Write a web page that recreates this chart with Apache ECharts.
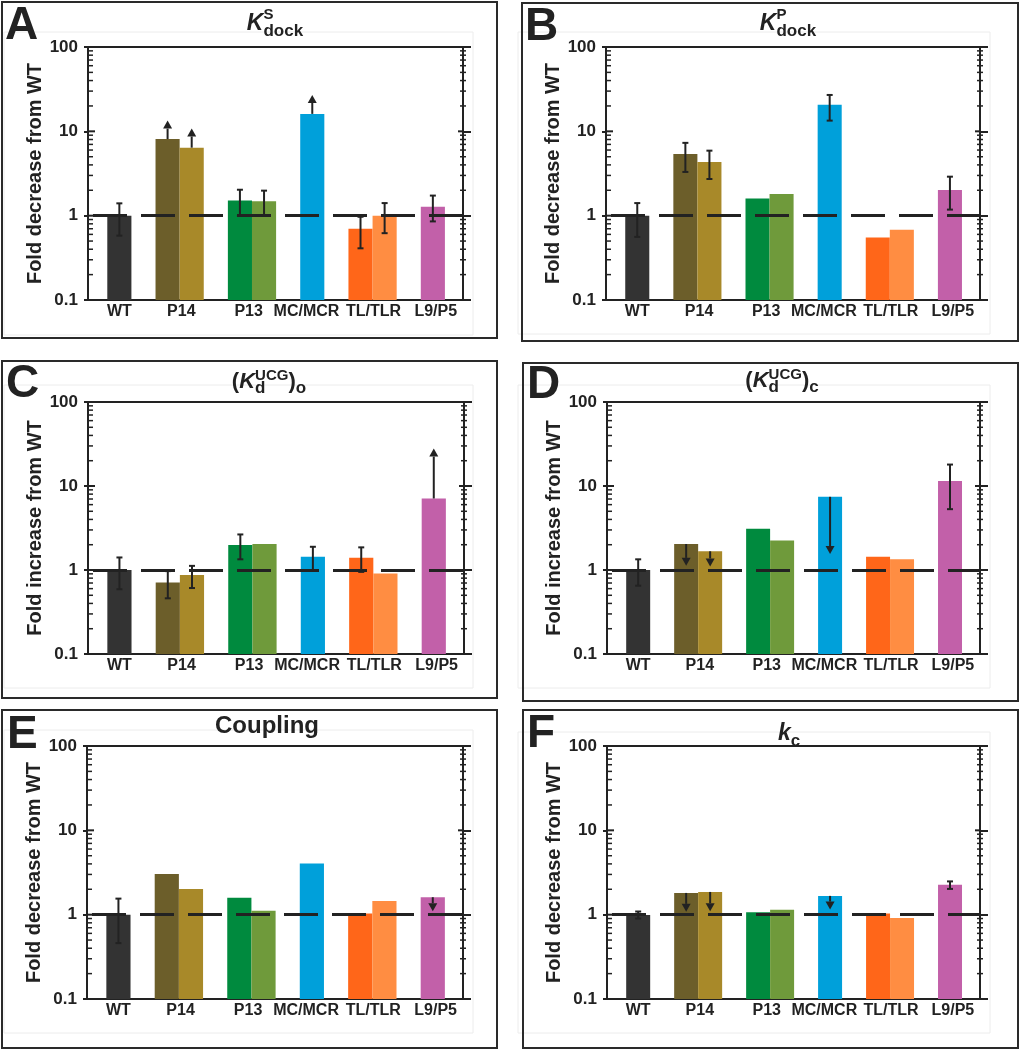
<!DOCTYPE html>
<html><head><meta charset="utf-8">
<script src="https://cdn.jsdelivr.net/npm/echarts@6/dist/echarts.min.js"></script>
<style>html,body{margin:0;padding:0;background:#fff;overflow:hidden}#c{width:1020px;height:1050px}</style>
</head><body><div id="c"></div>
<script>
// ---------- data ----------
const categories = ['WT', 'P14', 'P13', 'MC/MCR', 'TL/TLR', 'L9/P5'];
const categoryLabelPositions = [1.0, 3.57, 6.36, 8.76, 11.54, 14.12];
const barPositions = [1, 3, 4, 6, 7, 9, 11, 12, 14];
const barColors = ['#333333', '#6c5e2a', '#a88929', '#008a3e', '#6f9a3b', '#00a0da', '#ff6619', '#ff8d42', '#c260a9'];
const yTickValues = [0.1, 1, 10, 100];
const minorTickValues = [0.2, 0.3, 0.4, 0.5, 0.6, 0.7, 0.8, 0.9, 2, 3, 4, 5, 6, 7, 8, 9, 20, 30, 40, 50, 60, 70, 80, 90];
const panelLetters = ['A', 'B', 'C', 'D', 'E', 'F'];
const yAxisNames = ['Fold decrease from WT', 'Fold decrease from WT', 'Fold increase from WT', 'Fold increase from WT', 'Fold decrease from WT', 'Fold decrease from WT'];

// error bars: [barIndex, low, high]; arrows: [barIndex, arrow tip value]
const kdockS = [1.0, 8.1, 6.4, 1.51, 1.48, 16.1, 0.70, 1.0, 1.28];
const kdockSErr = [[0, 0.58, 1.40], [3, 1.0, 2.03], [4, 1.0, 1.98], [6, 0.41, 0.97], [7, 0.62, 1.41], [8, 0.855, 1.73]];
const kdockSArrows = [[1, 13.4], [2, 10.8], [5, 27]];
const kdockP = [1.0, 5.4, 4.33, 1.6, 1.81, 20.6, 0.55, 0.68, 2.02];
const kdockPErr = [[0, 0.56, 1.41], [1, 3.3, 7.3], [2, 2.72, 5.9], [5, 13.4, 27], [8, 1.18, 2.9]];
const kdockPArrows = [];
const kdUCGo = [1.0, 0.71, 0.87, 1.98, 2.04, 1.44, 1.40, 0.91, 7.1];
const kdUCGoErr = [[0, 0.59, 1.41], [1, 0.46, 0.97], [2, 0.61, 1.12], [3, 1.34, 2.65], [5, 1.0, 1.89], [6, 0.95, 1.86]];
const kdUCGoArrows = [[8, 27.9]];
const kdUCGc = [1.0, 2.04, 1.67, 3.1, 2.25, 7.43, 1.44, 1.34, 11.5];
const kdUCGcErr = [[0, 0.65, 1.34], [8, 5.3, 18]];
const kdUCGcArrows = [[1, 1.12], [2, 1.1], [5, 1.55]];
const coupling = [1.0, 3.04, 2.02, 1.59, 1.11, 4.03, 1.03, 1.45, 1.61];
const couplingErr = [[0, 0.46, 1.55]];
const couplingArrows = [[8, 1.1]];
const kc = [0.99, 1.81, 1.86, 1.07, 1.14, 1.67, 1.03, 0.91, 2.27];
const kcErr = [[0, 0.9, 1.09], [8, 2.02, 2.48]];
const kcArrows = [[1, 1.08], [2, 1.1], [5, 1.15]];

// ---------- layout / styling ----------
const INK = '#222222';
const FONT = '"Liberation Sans", Arial, Helvetica, sans-serif';
const X_MIN = -0.3, X_MAX = 15.25;

const panels = [
  { values: kdockS, err: kdockSErr, arrows: kdockSArrows, grid: [88, 47, 375, 253], box: [2, 2, 495, 336], faint: [4, 32, 469, 303], letter: [5, 26.5],
    title: { cx: 275, base: 32, groups: [[['K', 23, true, 0]], [['S', 15, false, -12], ['dock', 17, false, 5]]] } },
  { values: kdockP, err: kdockPErr, arrows: kdockPArrows, grid: [606, 47, 374, 253], box: [522, 3, 496, 338], faint: [518, 32, 472, 302], letter: [525, 27],
    title: { cx: 788, base: 32, groups: [[['K', 23, true, 0]], [['P', 15, false, -12], ['dock', 17, false, 5]]] } },
  { values: kdUCGo, err: kdUCGoErr, arrows: kdUCGoArrows, grid: [88, 402, 376, 252], box: [2, 361, 495, 337], faint: [4, 385, 469, 303], letter: [6, 384],
    title: { cx: 269, base: 390, groups: [[['(', 22, false, 0]], [['K', 22, true, 0]], [['UCG', 15, false, -9], ['d', 17, false, 4]], [[')', 22, false, 0]], [['o', 17, false, 4]]] } },
  { values: kdUCGc, err: kdUCGcErr, arrows: kdUCGcArrows, grid: [607, 402, 373, 252], box: [523, 363, 495, 338], faint: [518, 385, 472, 303], letter: [527, 385.5],
    title: { cx: 782, base: 389, groups: [[['(', 22, false, 0]], [['K', 22, true, 0]], [['UCG', 15, false, -9], ['d', 17, false, 4]], [[')', 22, false, 0]], [['c', 17, false, 4]]] } },
  { values: coupling, err: couplingErr, arrows: couplingArrows, grid: [87, 746, 376, 253], box: [2, 710, 495, 338], faint: [4, 730, 469, 303], letter: [7, 735],
    title: { cx: 267, base: 735, groups: [[['Coupling', 24, false, 0]]] } },
  { values: kc, err: kcErr, arrows: kcArrows, grid: [607, 746, 373, 253], box: [523, 710, 495, 338], faint: [518, 732, 472, 301], letter: [527, 734],
    title: { cx: 789, base: 742, groups: [[['k', 23, true, 0]], [['c', 17, false, 5]]] } }
];

const mctx = document.createElement('canvas').getContext('2d');
function fontStr(size, italic) { return (italic ? 'italic ' : '') + 'bold ' + size + 'px ' + FONT; }
function measure(t, size, italic) { mctx.font = fontStr(size, italic); return mctx.measureText(t).width; }
function textEl(x, y, text, font, align) {
  return { type: 'text', x: x, y: y, z: 10,
    style: { text: text, font: font, fill: INK, align: align || 'left', verticalAlign: 'middle', textAlign: align || 'left', textVerticalAlign: 'middle' } };
}
function titleGraphics(t) {
  const widths = t.groups.map(g => Math.max.apply(null, g.map(it => measure(it[0], it[1], it[2]))));
  const total = widths.reduce((a, b) => a + b, 0);
  let x = t.cx - total / 2;
  const out = [];
  t.groups.forEach((g, gi) => {
    g.forEach(it => out.push(textEl(x, t.base + it[3] - 0.35 * it[1], it[0], fontStr(it[1], it[2]))));
    x += widths[gi];
  });
  return out;
}
function barItem(params, api) {
  const x = api.value(0), v = api.value(1), k = api.value(2);
  const top = api.coord([x, v]), bot = api.coord([x, 0.1]);
  const w = api.size([1, 0])[0];
  return { type: 'rect', shape: { x: top[0] - w / 2, y: top[1], width: w, height: bot[1] - top[1] }, style: { fill: barColors[k] } };
}
function errItem(params, api) {
  const x = api.value(0);
  const lo = api.coord([x, api.value(1)]), hi = api.coord([x, api.value(2)]);
  const cw = 3, st = { stroke: INK, lineWidth: 2 };
  return { type: 'group', children: [
    { type: 'line', shape: { x1: lo[0], y1: lo[1], x2: hi[0], y2: hi[1] }, style: st },
    { type: 'line', shape: { x1: lo[0] - cw, y1: lo[1], x2: lo[0] + cw, y2: lo[1] }, style: st },
    { type: 'line', shape: { x1: hi[0] - cw, y1: hi[1], x2: hi[0] + cw, y2: hi[1] }, style: st } ] };
}
function arrowItem(params, api) {
  const x = api.value(0);
  const p0 = api.coord([x, api.value(1)]), p1 = api.coord([x, api.value(2)]);
  const dir = p1[1] < p0[1] ? -1 : 1, hh = 8, hw = 4.5, base = p1[1] - dir * hh;
  return { type: 'group', children: [
    { type: 'line', shape: { x1: p0[0], y1: p0[1], x2: p0[0], y2: base }, style: { stroke: INK, lineWidth: 2 } },
    { type: 'polygon', shape: { points: [[p1[0], p1[1]], [p1[0] - hw, base], [p1[0] + hw, base]] }, style: { fill: INK } } ] };
}

const grids = [], xAxes = [], yAxes = [], series = [], graphics = [], axisRefs = [];
panels.forEach((p, i) => {
  grids.push({ left: p.grid[0], top: p.grid[1], width: p.grid[2], height: p.grid[3] });
  const xb = xAxes.length;
  const lineSt = { color: INK, width: 2 };
  xAxes.push({ type: 'value', gridIndex: i, position: 'bottom', min: X_MIN, max: X_MAX,
    axisLine: { show: true, onZero: false, lineStyle: lineSt }, axisTick: { show: false }, splitLine: { show: false },
    axisLabel: { show: true, customValues: categoryLabelPositions, formatter: v => categories[categoryLabelPositions.indexOf(v)],
      color: INK, fontWeight: 'bold', fontSize: 16, fontFamily: FONT, margin: 4, hideOverlap: false } });
  xAxes.push({ type: 'value', gridIndex: i, position: 'top', min: X_MIN, max: X_MAX,
    axisLine: { show: true, onZero: false, lineStyle: lineSt }, axisTick: { show: false }, splitLine: { show: false }, axisLabel: { show: false } });
  const yb = yAxes.length;
  axisRefs.push({ xb: xb, yb: yb });
  const base = () => ({ type: 'log', logBase: 10, gridIndex: i, min: 0.1, max: 100, splitLine: { show: false },
    minorTick: { show: false }, axisLabel: { show: false }, axisLine: { show: false, onZero: false } });
  yAxes.push(Object.assign(base(), { position: 'left', name: yAxisNames[i], nameLocation: 'middle', nameRotate: 90, nameGap: 41,
    nameTextStyle: { color: INK, fontWeight: 'bold', fontSize: 20, fontFamily: FONT },
    axisLine: { show: true, onZero: false, lineStyle: lineSt },
    axisTick: { show: true, inside: false, length: 4, customValues: yTickValues, lineStyle: { color: INK, width: 2 } },
    axisLabel: { show: true, customValues: yTickValues, formatter: v => String(v), margin: 10, color: INK, fontWeight: 'bold', fontSize: 17, fontFamily: FONT } }));
  yAxes.push(Object.assign(base(), { position: 'right', axisLine: { show: true, onZero: false, lineStyle: lineSt },
    axisTick: { show: true, inside: false, length: 8, customValues: yTickValues, lineStyle: { color: INK, width: 2 } } }));

  series.push({ type: 'custom', xAxisIndex: xb, yAxisIndex: yb, z: 2, silent: true,
    encode: { x: 0, y: 1 }, data: p.values.map((v, k) => [barPositions[k], v, k]), renderItem: barItem });
  series.push({ type: 'line', xAxisIndex: xb, yAxisIndex: yb, z: 3, data: [], silent: true,
    markLine: { silent: true, symbol: ['none', 'none'], label: { show: false }, animation: false,
      lineStyle: { type: [34, 14], dashOffset: 43, width: 3, color: INK }, emphasis: { disabled: true }, data: [{ yAxis: 1 }] } });
  if (p.err.length) series.push({ type: 'custom', xAxisIndex: xb, yAxisIndex: yb, z: 4, silent: true,
    encode: { x: 0, y: [1, 2] }, data: p.err.map(e => [barPositions[e[0]], e[1], e[2]]), renderItem: errItem });
  if (p.arrows.length) series.push({ type: 'custom', xAxisIndex: xb, yAxisIndex: yb, z: 4, silent: true,
    encode: { x: 0, y: [1, 2] }, data: p.arrows.map(a => [barPositions[a[0]], p.values[a[0]], a[1]]), renderItem: arrowItem });

  graphics.push({ type: 'rect', shape: { x: p.faint[0], y: p.faint[1], width: p.faint[2], height: p.faint[3] },
    style: { fill: 'none', stroke: '#ececec', lineWidth: 1 }, z: 0, silent: true });
  graphics.push({ type: 'rect', shape: { x: p.box[0], y: p.box[1], width: p.box[2], height: p.box[3] },
    style: { fill: 'none', stroke: '#2a2a2a', lineWidth: 2 }, z: 1, silent: true });
  graphics.push(textEl(p.letter[0], p.letter[1], panelLetters[i], 'bold 46px ' + FONT));
  titleGraphics(p.title).forEach(g => graphics.push(g));
});

const chart = echarts.init(document.getElementById('c'), null, { renderer: 'canvas' });
chart.setOption({ animation: false, backgroundColor: '#ffffff', textStyle: { fontFamily: FONT },
  grid: grids, xAxis: xAxes, yAxis: yAxes, series: series, graphic: { elements: graphics } });

// extra frame ticks (inner major ticks, log minor ticks) placed through the chart's own axis scales
const tickGraphics = [];
function tickLine(x1, y, x2, w) {
  return { type: 'line', silent: true, z: 6, shape: { x1: x1, y1: y, x2: x2, y2: y }, style: { stroke: INK, lineWidth: w } };
}
axisRefs.forEach(ref => {
  const finder = { xAxisIndex: ref.xb, yAxisIndex: ref.yb };
  yTickValues.forEach(v => {
    const l = chart.convertToPixel(finder, [X_MIN, v]);
    const r = chart.convertToPixel(finder, [X_MAX, v]);
    tickGraphics.push(tickLine(l[0], l[1], l[0] + 7, 2));
    tickGraphics.push(tickLine(r[0] - 5, r[1], r[0], 2));
  });
  minorTickValues.forEach(v => {
    const l = chart.convertToPixel(finder, [X_MIN, v]);
    const r = chart.convertToPixel(finder, [X_MAX, v]);
    tickGraphics.push(tickLine(l[0], l[1], l[0] + 5, 1.5));
    tickGraphics.push(tickLine(r[0] - 3, r[1], r[0] + 3, 1.5));
  });
});
chart.setOption({ graphic: { elements: graphics.concat(tickGraphics) } });
</script></body></html>
